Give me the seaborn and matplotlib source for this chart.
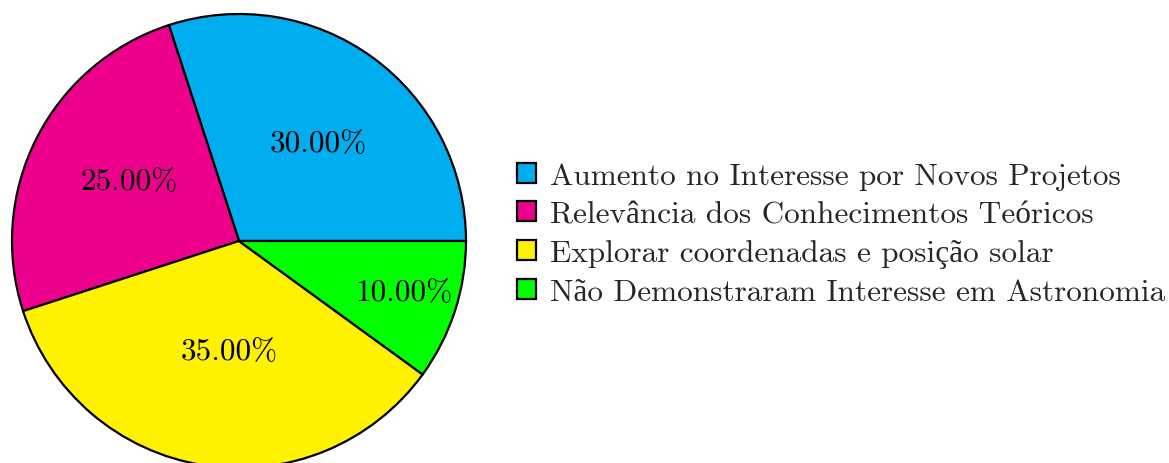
import matplotlib
matplotlib.use("Agg")
import matplotlib.pyplot as plt
import seaborn as sns
import numpy as np

# Survey result shares (percent) and their categories
categories = [
    "Aumento no Interesse por Novos Projetos",
    "Relevância dos Conhecimentos Teóricos",
    "Explorar coordenadas e posição solar",
    "Não Demonstraram Interesse em Astronomia",
]
shares = [30, 25, 35, 10]
colors = ["#00AEEF", "#EC008C", "#FFF200", "#00FF00"]
# placement of each percentage label: fraction of the radius and
# angular nudge (degrees) from the wedge's mid angle
label_radius = [0.554, 0.552, 0.485, 0.761]
label_nudge = [-3.2, -1.6, 3.8, 0.8]

sns.set_theme(style="white")
plt.rcParams["font.family"] = ["cmr10", "Liberation Serif"]
plt.rcParams["mathtext.fontset"] = "cm"
plt.rcParams["axes.unicode_minus"] = False

W, H = 1169, 464
fig = plt.figure(figsize=(W / 100, H / 100), dpi=100)
fig.patch.set_facecolor("white")

R = 227
cx, cy = 239, 222
ax = fig.add_axes([(cx - R) / W, (cy - R) / H, 2 * R / W, 2 * R / H])
ax.axis("off")

wedges, _ = ax.pie(
    shares,
    colors=colors,
    startangle=0,
    counterclock=True,
    radius=1,
    wedgeprops=dict(edgecolor="black", linewidth=1.6),
    frame=False,
)
ax.set_xlim(-1, 1)
ax.set_ylim(-1, 1)
ax.set_aspect("equal")

for w, v, r, d in zip(wedges, shares, label_radius, label_nudge):
    mid = np.deg2rad((w.theta1 + w.theta2) / 2 + d)
    ax.text(r * np.cos(mid), r * np.sin(mid), f"{v:.2f}%",
            ha="center", va="center", fontsize=22.5, color="black")

fig.legend(
    wedges, categories,
    loc="center left",
    bbox_to_anchor=(517 / W, (H - 235) / H),
    frameon=False,
    fontsize=22.5,
    handlelength=0.6,
    handleheight=0.6,
    handletextpad=0.45,
    labelspacing=0.33,
    borderpad=0,
    borderaxespad=0,
)

fig.savefig("out.png", dpi=100, facecolor="white")
